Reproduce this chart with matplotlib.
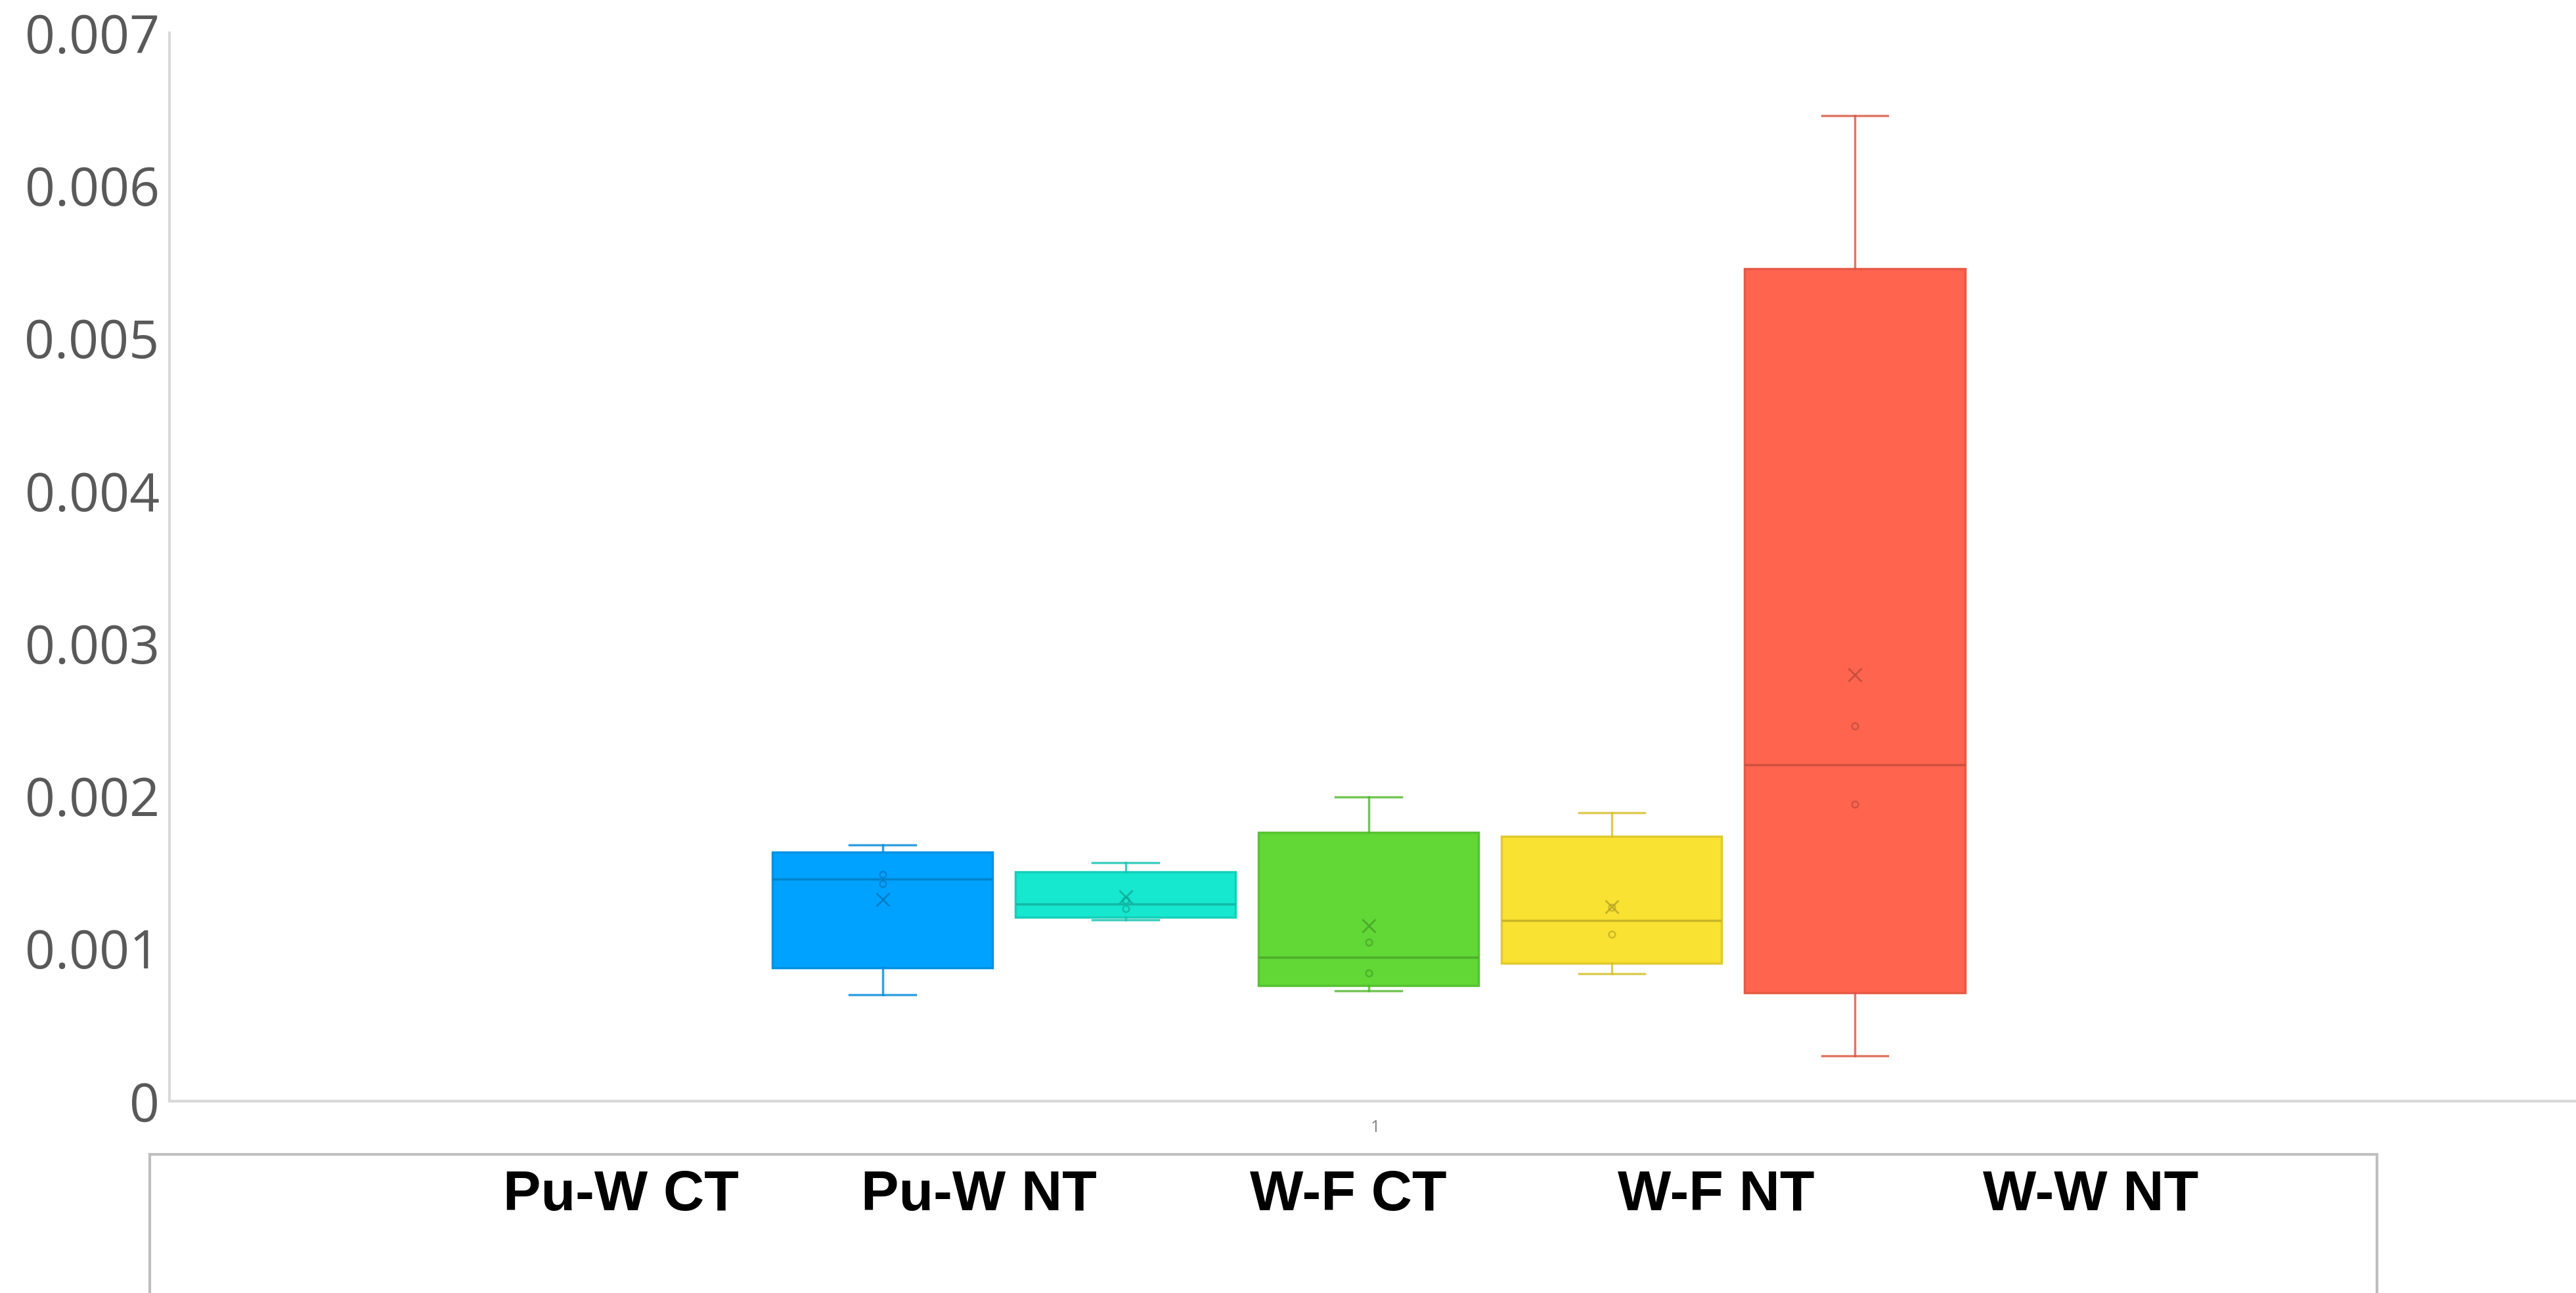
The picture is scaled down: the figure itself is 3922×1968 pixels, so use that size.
import matplotlib
matplotlib.use('Agg')
import matplotlib.pyplot as plt
from matplotlib.patches import Rectangle
import matplotlib.colors as mcolors

# series
groups = ['Pu-W CT', 'Pu-W NT', 'W-F CT', 'W-F NT', 'W-W NT']
colors = ['#00A2FF', '#16E7CF', '#61D836', '#FAE232', '#FF644E']
whis_lo = [0.000697, 0.001188, 0.000724, 0.000837, 0.000299]
q1 = [0.000875, 0.001205, 0.000758, 0.000904, 0.000712]
median = [0.001455, 0.001293, 0.000941, 0.001184, 0.002203]
q3 = [0.001633, 0.001504, 0.001759, 0.001733, 0.005456]
whis_hi = [0.001680, 0.001561, 0.001994, 0.001888, 0.006459]
means = [0.001322, 0.001339, 0.001148, 0.001274, 0.002792]
inner_pts = [[0.001485, 0.001425], [0.001317, 0.001263], [0.001040, 0.000839],
             [0.001270, 0.001092], [0.002458, 0.001947]]
y_ticks = [0, 0.001, 0.002, 0.003, 0.004, 0.005, 0.006, 0.007]
y_ticklabels = ['0', '0.001', '0.002', '0.003', '0.004', '0.005', '0.006', '0.007']

W, H = 3922, 1968
fig = plt.figure(figsize=(W / 100, H / 100), dpi=100)
ax = fig.add_axes([258 / W, 1 - 1676 / H, 1 - 258 / W, (1676 - 50) / H])

center, step, width = 0.4983, 0.101, 0.0915


def darker(c, f):
    r, g, b = mcolors.to_rgb(c)
    return (r * f, g * f, b * f)


for i, g in enumerate(groups):
    pos = center + (i - 2) * step
    c = colors[i]
    stats = [dict(med=median[i], q1=q1[i], q3=q3[i], whislo=whis_lo[i],
                  whishi=whis_hi[i], fliers=[], label=g)]
    ax.bxp(stats, positions=[pos], widths=width, patch_artist=True,
           showfliers=False, capwidths=width * 0.3,
           boxprops=dict(facecolor=c, edgecolor=darker(c, 0.9), linewidth=2.5),
           medianprops=dict(color=darker(c, 0.8), linewidth=2.5),
           whiskerprops=dict(color=darker(c, 0.85), linewidth=2.5, alpha=0.8),
           capprops=dict(color=darker(c, 0.85), linewidth=2.5, alpha=0.8))
    ax.plot([pos] * len(inner_pts[i]), inner_pts[i], 'o', ms=7, mfc='none',
            mec=darker(c, 0.7), mew=1.8, alpha=0.6)
    ax.plot([pos], [means[i]], 'x', ms=15, mec=darker(c, 0.7), mew=2, alpha=0.7)

ax.set_xlim(0, 1)
ax.set_ylim(0, 0.007)
ax.set_yticks(y_ticks)
ax.set_yticklabels(y_ticklabels, fontsize=58, color='#595959', family='Open Sans')
ax.set_xticks([0.501])
ax.set_xticklabels(['1'], fontsize=18, color='#808080', family='Open Sans')
ax.tick_params(axis='y', length=0, pad=11)
ax.tick_params(axis='x', length=0, pad=20)
for s in ['top', 'right']:
    ax.spines[s].set_visible(False)
for s in ['left', 'bottom']:
    ax.spines[s].set_color('#D9D9D9')
    ax.spines[s].set_linewidth(3)

# legend-style box below the plot
fig.patches.append(Rectangle((228 / W, -0.05), (3619 - 228) / W, 0.05 + 1 - 1757 / H,
                             transform=fig.transFigure, fill=False,
                             edgecolor='#BFBFBF', linewidth=3))
leg_x = [945, 1490, 2053, 2613, 3183]
for i, g in enumerate(groups):
    fig.text(leg_x[i] / W, 1 - 1820 / H, g, fontsize=62, fontweight='bold',
             family='Liberation Sans', ha='center', va='center', color='black')

fig.savefig('out.png', dpi=100)
